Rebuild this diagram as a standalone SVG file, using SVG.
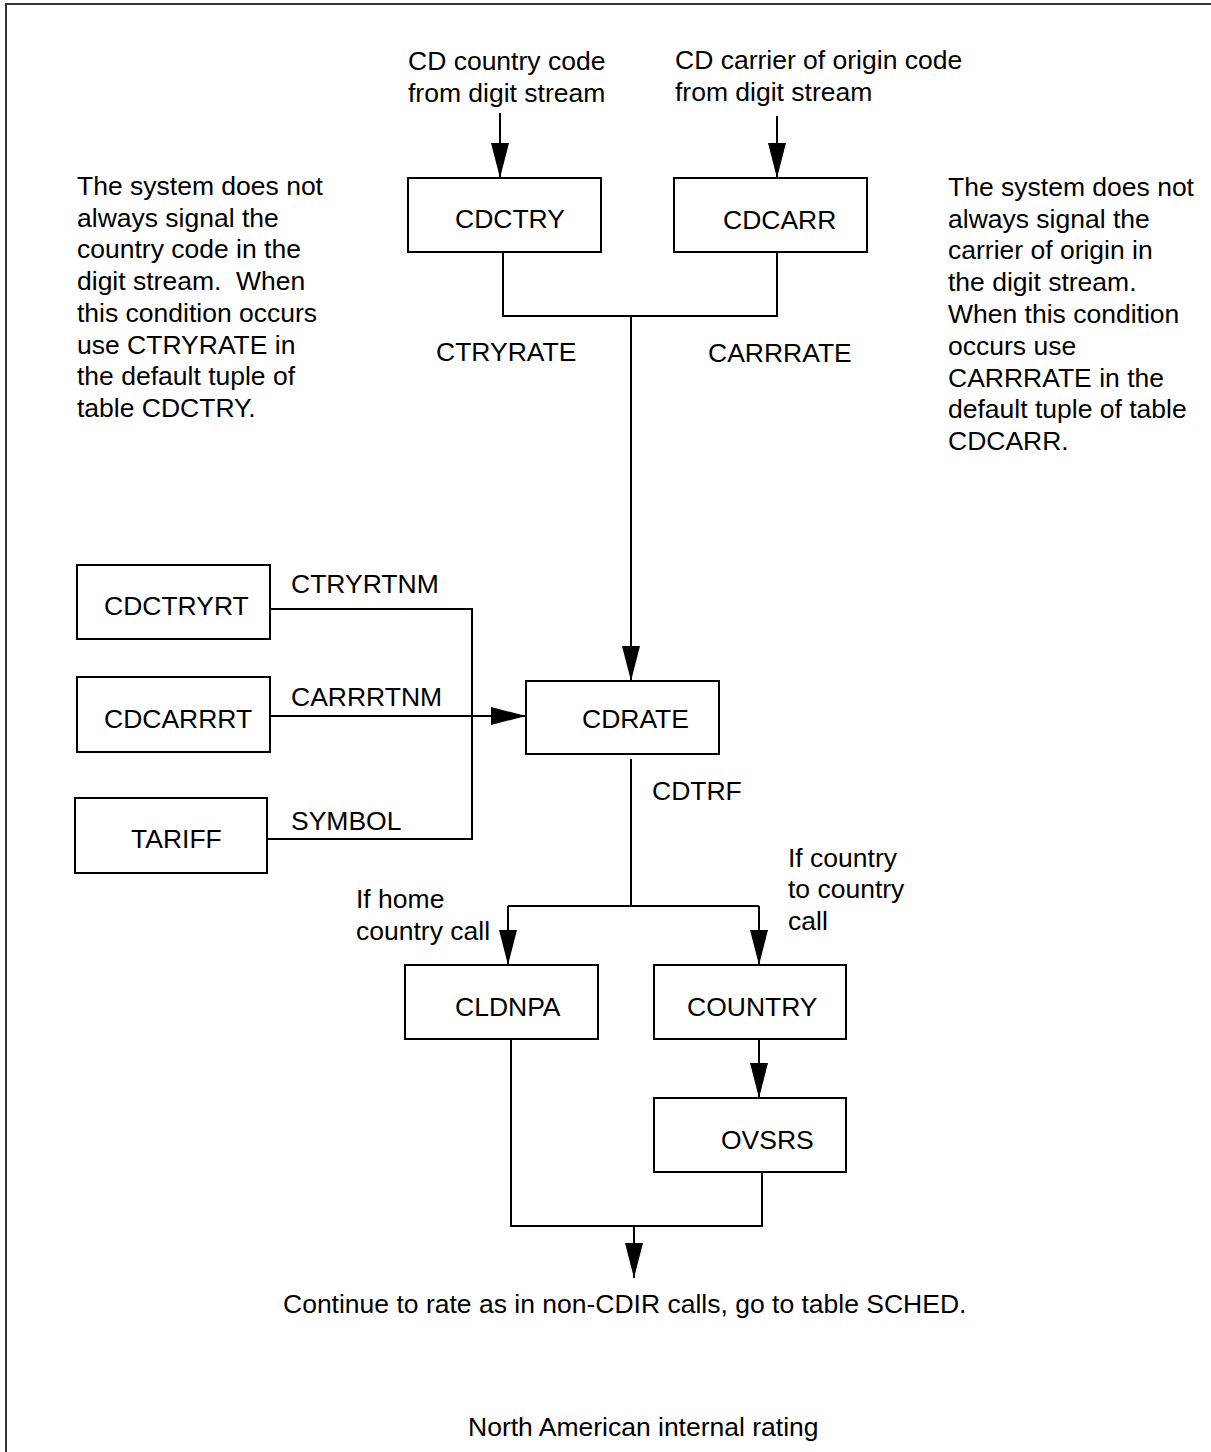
<svg xmlns="http://www.w3.org/2000/svg" width="1211" height="1452" viewBox="0 0 1211 1452">
<defs>
<style>
text{font-family:"Liberation Sans",Arial,sans-serif;font-size:26.5px;fill:#000;white-space:pre}
.box{fill:#fff;stroke:#000;stroke-width:2}
.ln{fill:none;stroke:#000;stroke-width:2}
</style>
<marker id="ah" viewBox="0 0 35 18" refX="35" refY="9" markerWidth="35" markerHeight="18" markerUnits="userSpaceOnUse" orient="auto">
<path d="M0,0 L35,9 L0,18 z" fill="#000"/>
</marker>
</defs>
<rect x="0" y="0" width="1211" height="1452" fill="#fff"/>
<rect x="6" y="4" width="1230" height="1480" fill="none" stroke="#333" stroke-width="2"/>

<g id="connectors">
<path class="ln" d="M500,113 V178" marker-end="url(#ah)"/>
<path class="ln" d="M777,116 V178" marker-end="url(#ah)"/>
<path class="ln" d="M503,253 V316 H777 V253"/>
<path class="ln" d="M631,316 V681" marker-end="url(#ah)"/>
<path class="ln" d="M270,609 H472 V839 H267"/>
<path class="ln" d="M270,716 H526" marker-end="url(#ah)"/>
<path class="ln" d="M631,759 V906 M508,906 H759"/>
<path class="ln" d="M508,906 V965" marker-end="url(#ah)"/>
<path class="ln" d="M759,906 V965" marker-end="url(#ah)"/>
<path class="ln" d="M759,1039 V1098" marker-end="url(#ah)"/>
<path class="ln" d="M511,1039 V1226 H762 V1172"/>
<path class="ln" d="M634,1226 V1278" marker-end="url(#ah)"/>
</g>

<g id="CDCTRY"><rect class="box" x="408" y="178" width="193" height="74"/><text x="455" y="228">CDCTRY</text></g>
<g id="CDCARR"><rect class="box" x="674" y="178" width="193" height="74"/><text x="723" y="229">CDCARR</text></g>
<g id="CDCTRYRT"><rect class="box" x="77" y="565" width="193" height="74"/><text x="104" y="615">CDCTRYRT</text></g>
<g id="CDCARRRT"><rect class="box" x="77" y="677" width="193" height="75"/><text x="104" y="728">CDCARRRT</text></g>
<g id="TARIFF"><rect class="box" x="75" y="798" width="192" height="75"/><text x="131" y="848">TARIFF</text></g>
<g id="CDRATE"><rect class="box" x="526" y="681" width="193" height="73"/><text x="582" y="728">CDRATE</text></g>
<g id="CLDNPA"><rect class="box" x="405" y="965" width="193" height="74"/><text x="455" y="1016">CLDNPA</text></g>
<g id="COUNTRY"><rect class="box" x="654" y="965" width="192" height="74"/><text x="687" y="1016">COUNTRY</text></g>
<g id="OVSRS"><rect class="box" x="654" y="1098" width="192" height="74"/><text x="721" y="1149">OVSRS</text></g>

<g id="labels">
<text x="408" y="70">CD country code</text>
<text x="408" y="102">from digit stream</text>
<text x="675" y="69">CD carrier of origin code</text>
<text x="675" y="101">from digit stream</text>
<text x="77" y="195">The system does not</text>
<text x="77" y="226.7">always signal the</text>
<text x="77" y="258.4">country code in the</text>
<text x="77" y="290.1">digit stream.  When</text>
<text x="77" y="321.8">this condition occurs</text>
<text x="77" y="353.5">use CTRYRATE in</text>
<text x="77" y="385.2">the default tuple of</text>
<text x="77" y="417">table CDCTRY.</text>
<text x="948" y="195.7">The system does not</text>
<text x="948" y="227.5">always signal the</text>
<text x="948" y="259.3">carrier of origin in</text>
<text x="948" y="291.1">the digit stream.</text>
<text x="948" y="322.9">When this condition</text>
<text x="948" y="354.7">occurs use</text>
<text x="948" y="386.5">CARRRATE in the</text>
<text x="948" y="418.3">default tuple of table</text>
<text x="948" y="450">CDCARR.</text>
<text x="436" y="361">CTRYRATE</text>
<text x="708" y="362">CARRRATE</text>
<text x="291" y="593">CTRYRTNM</text>
<text x="291" y="706">CARRRTNM</text>
<text x="291" y="830">SYMBOL</text>
<text x="652" y="800">CDTRF</text>
<text x="356" y="908">If home</text>
<text x="356" y="940">country call</text>
<text x="788" y="867">If country</text>
<text x="788" y="898">to country</text>
<text x="788" y="930">call</text>
<text x="283" y="1313">Continue to rate as in non-CDIR calls, go to table SCHED.</text>
<text x="468" y="1436">North American internal rating</text>
</g>
</svg>
